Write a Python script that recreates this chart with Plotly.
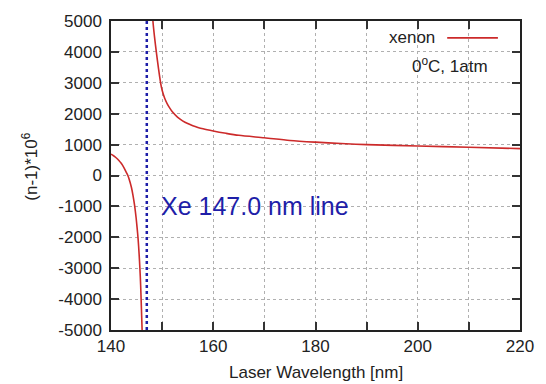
import plotly.graph_objects as go

# Left branch (below the resonance)
left_wl = [140.0, 140.5, 141.0, 141.5, 142.0, 142.5, 143.0, 143.3, 143.7, 144.0, 144.3, 144.6, 144.9, 145.1, 145.3, 145.5, 145.65, 145.8, 145.9, 146.0, 146.1, 146.2]
left_n = [690, 640, 575, 495, 395, 265, 100, 0, -200, -390, -640, -950, -1350, -1680, -2050, -2550, -3000, -3550, -4050, -4550, -5100, -5700]

# Right branch (above the resonance)
right_wl = [148.1, 148.2, 148.5, 148.9, 149.3, 149.7, 150.0, 150.5, 151.0, 151.5, 152.0, 153.0, 154.0, 155.0, 156.0, 157.0, 158.0, 160.0, 162.5, 165.0, 170.0, 175.0, 180.0, 185.0, 190.0, 200.0, 210.0, 220.0]
right_n = [5300, 5000, 4500, 3950, 3450, 3000, 2760, 2500, 2320, 2180, 2060, 1890, 1770, 1680, 1610, 1555, 1510, 1440, 1365, 1300, 1220, 1135, 1080, 1035, 1000, 955, 915, 870]

xe_line = 147.0

y_ticks = [-5000, -4000, -3000, -2000, -1000, 0, 1000, 2000, 3000, 4000, 5000]

red = "#cc2a2a"
blue = "#1e1ea8"
font = "Liberation Sans, Arial, sans-serif"

fig = go.Figure()
fig.add_trace(go.Scatter(x=left_wl, y=left_n, mode="lines",
                         line=dict(color=red, width=1.6, shape="spline", smoothing=0.8), showlegend=False))
fig.add_trace(go.Scatter(x=right_wl, y=right_n, mode="lines",
                         line=dict(color=red, width=1.6, shape="spline", smoothing=0.8), showlegend=False))
fig.add_trace(go.Scatter(x=[xe_line, xe_line], y=[y_ticks[0], y_ticks[-1]], mode="lines",
                         line=dict(color=blue, width=2.5, dash="dot"), showlegend=False))

axis_common = dict(showline=True, linecolor="#222", linewidth=1.5, mirror="ticks",
                   ticks="inside", ticklen=8, tickwidth=1.5, tickcolor="#333",
                   showgrid=True, gridcolor="#b0b0b0", griddash="dot", gridwidth=1,
                   zeroline=False, tickfont=dict(family=font, size=17, color="#222"))

fig.update_xaxes(range=[140, 220], dtick=20, tick0=140,
                 minor=dict(dtick=10, tick0=140, ticks="inside", ticklen=8, tickwidth=1.5, tickcolor="#333",
                            showgrid=True, gridcolor="#b0b0b0", griddash="dot", gridwidth=1),
                 **axis_common)
fig.update_yaxes(range=[-5000, 5000], tickmode="array", tickvals=y_ticks,
                 ticktext=[str(v) for v in y_ticks], ticklabelstandoff=4, **axis_common)

fig.update_layout(
    width=546, height=384,
    margin=dict(l=111, r=24, t=18, b=54),
    paper_bgcolor="white", plot_bgcolor="white",
    font=dict(family=font, color="#222"),
    annotations=[
        dict(text="Laser Wavelength [nm]", xref="paper", yref="paper", x=0.5, y=-0.139,
             xanchor="center", yanchor="middle", showarrow=False, font=dict(size=17, family=font, color="#222")),
        dict(text="(n-1)*10<sup>6</sup>", xref="paper", yref="paper", x=-0.197, y=0.53,
             xanchor="center", yanchor="middle", textangle=-90, showarrow=False,
             font=dict(size=17, family=font, color="#222")),
        dict(text="xenon", xref="paper", yref="paper", x=0.796, y=0.9455,
             xanchor="right", yanchor="middle", showarrow=False, font=dict(size=17, family=font, color="#222")),
        dict(text="0<sup>o</sup>C, 1atm", xref="paper", yref="paper", x=0.927, y=0.856,
             xanchor="right", yanchor="middle", showarrow=False, font=dict(size=17, family=font, color="#222")),
        dict(text="Xe 147.0 nm line", xref="x", yref="y", x=149.3, y=-1000,
             xanchor="left", yanchor="middle", showarrow=False, font=dict(size=25, family=font, color=blue)),
    ],
    shapes=[dict(type="line", xref="paper", yref="paper", x0=0.822, x1=0.946, y0=0.9455, y1=0.9455,
                 line=dict(color=red, width=1.6))],
)

fig.write_html("out.html")
